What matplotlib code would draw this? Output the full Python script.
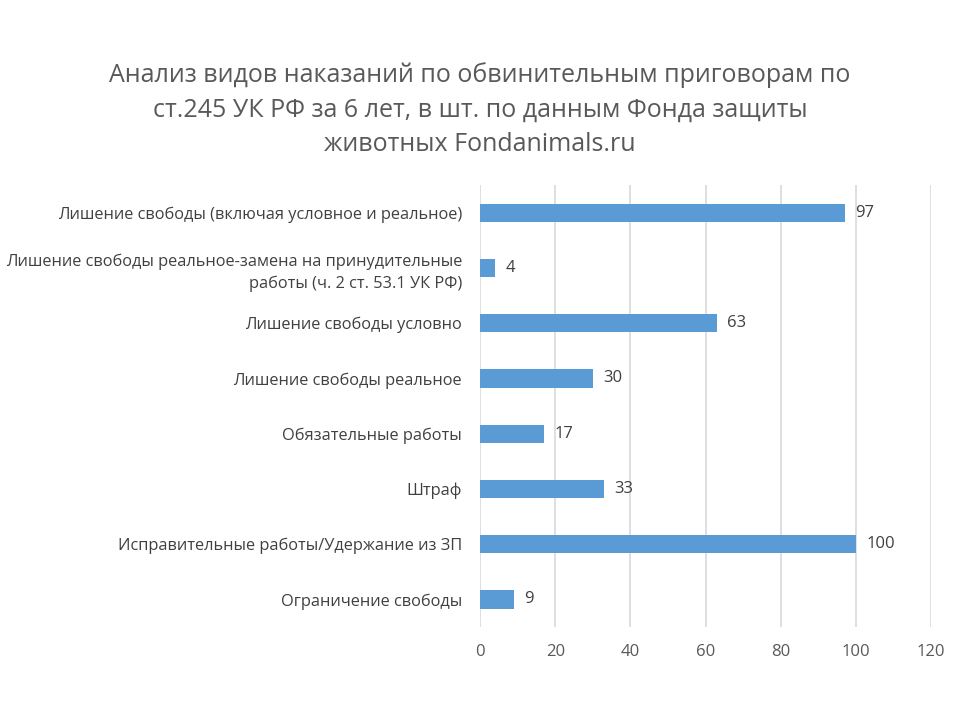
import matplotlib
matplotlib.use("Agg")
import matplotlib.pyplot as plt

plt.rcParams['font.family'] = ['Open Sans', 'DejaVu Sans']

categories = [
    "Лишение свободы (включая условное и реальное)",
    "Лишение свободы реальное-замена на принудительные\nработы (ч. 2 ст. 53.1 УК РФ)",
    "Лишение свободы условно",
    "Лишение свободы реальное",
    "Обязательные работы",
    "Штраф",
    "Исправительные работы/Удержание из ЗП",
    "Ограничение свободы",
]
values = [97, 4, 63, 30, 17, 33, 100, 9]
xticks = [0, 20, 40, 60, 80, 100, 120]
title = ("Анализ видов наказаний по обвинительным приговорам по\n"
         "ст.245 УК РФ за 6 лет, в шт. по данным Фонда защиты\n"
         "животных Fondanimals.ru")

fig = plt.figure(figsize=(9.6, 7.2), dpi=100)
ax = fig.add_axes([0.5, 0.129, 0.47, 0.614])
ypos = list(range(len(categories)))
ax.barh(ypos, values, height=0.33, color='#5B9BD5', zorder=3)
ax.set_ylim(len(categories) - 0.5, -0.5)
ax.set_xlim(0, 120)
ax.set_xticks(xticks)
ax.set_xticklabels([str(t) for t in xticks], fontsize=12, color='#595959')
ax.set_yticks(ypos)
ax.set_yticklabels(categories, fontsize=11.8, color='#404040', linespacing=1.45)
ax.tick_params(axis='y', length=0, pad=13)
ax.tick_params(axis='x', length=0, pad=12)
ax.grid(axis='x', color='#D9D9D9', linewidth=1.2, zorder=0)
for s in ax.spines.values():
    s.set_visible(False)
for y, v in zip(ypos, values):
    ax.text(v + 2.7, y, str(v), va='center', ha='left', fontsize=12, color='#404040')

fig.text(0.5, 0.848, title, ha='center', va='center', fontsize=18, color='#595959',
         linespacing=1.5)
fig.savefig('out.png', dpi=100)
